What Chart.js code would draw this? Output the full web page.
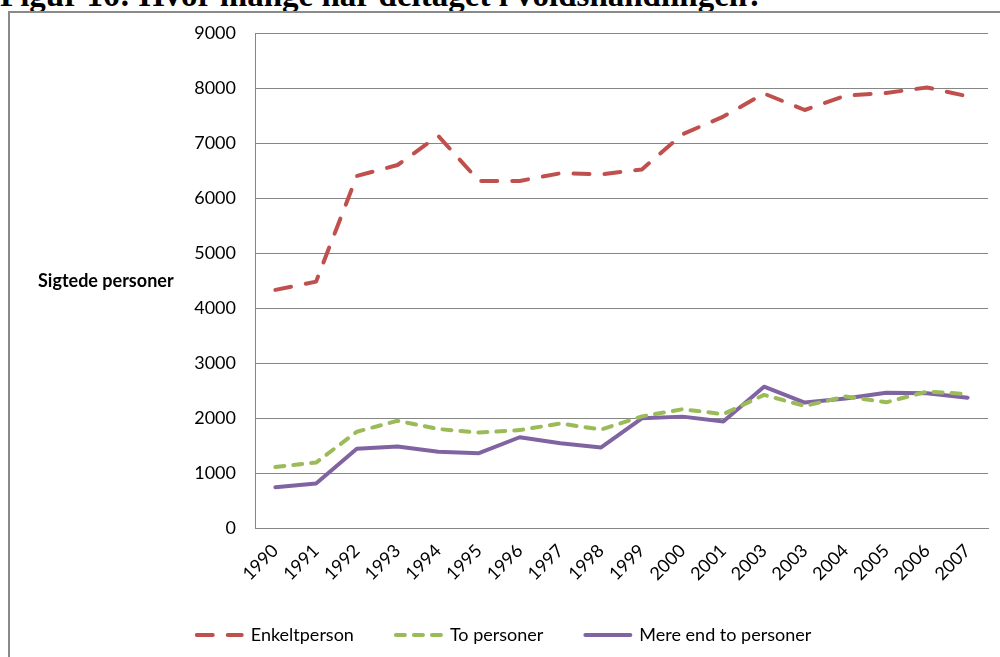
<!DOCTYPE html>
<html>
<head>
<meta charset="utf-8">
<script src="https://cdn.jsdelivr.net/npm/chart.js@4.4.1/dist/chart.umd.min.js"></script>
<style>
  html, body { margin: 0; padding: 0; background: #fff; overflow: hidden; }
  #page { position: relative; width: 1000px; height: 657px; overflow: hidden; }
  #title {
    position: absolute; left: 0; top: -21px; margin: 0;
    font: bold 33px "Liberation Serif", "Times New Roman", serif;
    line-height: 33px; white-space: nowrap; color: #000;
  }
  #frame {
    position: absolute; left: 8px; top: 11px; width: 1100px; height: 700px;
    border: 2px solid #8a8a8a; box-sizing: border-box;
  }
  #wrap { position: absolute; left: 0; top: 0; width: 1000px; height: 657px; }
</style>
</head>
<body>
<div id="page">
  <div id="title">Figur 16: Hvor mange har deltaget i voldshandlingen?</div>
  <div id="frame"></div>
  <div id="wrap"><canvas id="chart" width="1000" height="657"></canvas></div>
</div>
<script>
  // årstal (2003 står to gange i originalen)
  const years = ["1990", "1991", "1992", "1993", "1994", "1995", "1996", "1997", "1998",
    "1999", "2000", "2001", "2003", "2003", "2004", "2005", "2006", "2007"];

  const enkeltperson = [4330, 4480, 6400, 6600, 7130, 6310, 6310, 6450, 6430,
    6520, 7160, 7480, 7900, 7600, 7860, 7910, 8010, 7850];
  const toPersoner = [1110, 1190, 1750, 1950, 1800, 1735, 1780, 1900, 1790,
    2030, 2160, 2070, 2420, 2220, 2390, 2285, 2480, 2435];
  const mereEndTo = [740, 810, 1440, 1480, 1385, 1360, 1650, 1540, 1465,
    1995, 2025, 1935, 2570, 2280, 2355, 2460, 2450, 2370];

  const yTicks = [0, 1000, 2000, 3000, 4000, 5000, 6000, 7000, 8000, 9000];
  const yTitle = "Sigtede personer";

  const fontFam = 'Lato, "Open Sans", sans-serif';

  // vandret aksetitel til venstre for y-aksen
  const yTitlePlugin = {
    id: 'yTitle',
    afterDraw(chart) {
      const ctx = chart.ctx;
      ctx.save();
      ctx.font = 'bold 18px ' + fontFam;
      ctx.fillStyle = '#000';
      ctx.textAlign = 'left';
      ctx.textBaseline = 'middle';
      ctx.fillText(yTitle, 38, 281);
      ctx.restore();
    }
  };

  new Chart(document.getElementById('chart'), {
    type: 'line',
    data: {
      labels: years,
      datasets: [
        {
          label: 'Enkeltperson',
          data: enkeltperson,
          borderColor: '#C0504D',
          backgroundColor: '#C0504D',
          borderWidth: 4,
          borderDash: [16, 15],
          borderCapStyle: 'round',
          borderJoinStyle: 'round',
          pointRadius: 0,
          tension: 0
        },
        {
          label: 'To personer',
          data: toPersoner,
          borderColor: '#9BBB59',
          backgroundColor: '#9BBB59',
          borderWidth: 4,
          borderDash: [9, 9],
          borderCapStyle: 'round',
          borderJoinStyle: 'round',
          pointRadius: 0,
          tension: 0
        },
        {
          label: 'Mere end to personer',
          data: mereEndTo,
          borderColor: '#8064A2',
          backgroundColor: '#8064A2',
          borderWidth: 4,
          borderCapStyle: 'round',
          borderJoinStyle: 'round',
          pointRadius: 0,
          tension: 0
        }
      ]
    },
    options: {
      responsive: false,
      animation: false,
      layout: { padding: { left: 20, right: 12, top: 33, bottom: 3 } },
      plugins: {
        tooltip: { enabled: false },
        legend: {
          position: 'bottom',
          labels: {
            usePointStyle: true,
            pointStyle: 'line',
            pointStyleWidth: 45,
            padding: 42,
            color: '#000',
            font: { family: fontFam, size: 18 },
            generateLabels(chart) {
              const items = Chart.defaults.plugins.legend.labels.generateLabels(chart);
              items.forEach(item => {
                const ds = chart.data.datasets[item.datasetIndex];
                item.lineDash = ds.borderDash || [];
                item.lineWidth = 4;
                item.lineCap = 'round';
                item.strokeStyle = ds.borderColor;
              });
              return items;
            }
          }
        }
      },
      scales: {
        x: {
          offset: true,
          grid: { display: false },
          border: { display: true, color: '#868686', width: 1 },
          ticks: {
            color: '#000',
            font: { family: fontFam, size: 18 },
            minRotation: 45,
            maxRotation: 45,
            padding: 4
          },
          afterFit(scale) { scale.height = 56; }
        },
        y: {
          min: 0,
          max: 9000,
          afterBuildTicks(scale) { scale.ticks = yTicks.map(v => ({ value: v })); },
          grid: { color: '#868686', drawTicks: false },
          border: { display: true, color: '#868686', width: 1 },
          ticks: {
            color: '#000',
            padding: 19,
            font: { family: fontFam, size: 18 },
            callback: (v) => String(v)
          },
          afterFit(scale) { scale.width = 235; }
        }
      }
    },
    plugins: [yTitlePlugin]
  });
</script>
</body>
</html>
